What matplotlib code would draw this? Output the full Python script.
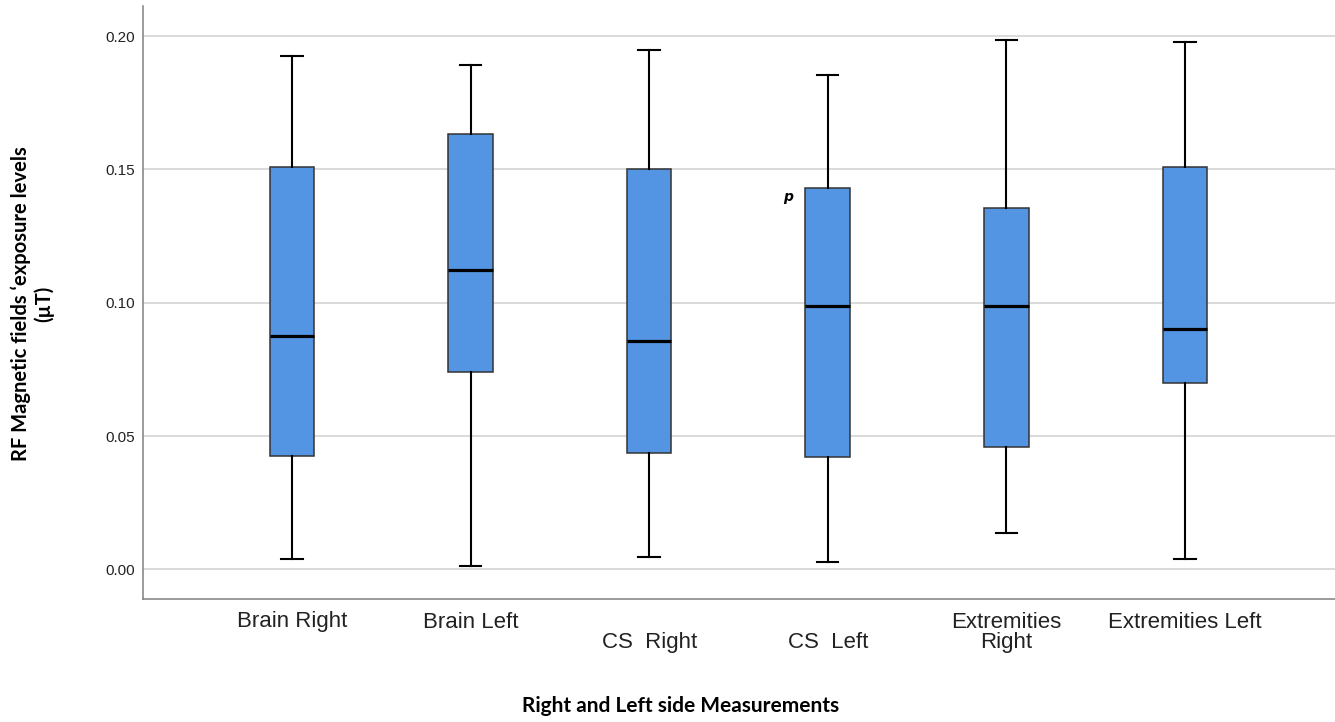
import numpy as np
import matplotlib
matplotlib.use('Agg')
import matplotlib.pyplot as plt

# Values (uT)
groups = ['Brain Right', 'Brain Left', '\nCS  Right', '\nCS  Left',
          'Extremities\nRight', 'Extremities Left']
whislo = [0.0038, 0.0011, 0.0047, 0.0026, 0.0137, 0.0040]
q1     = [0.0425, 0.0741, 0.0435, 0.0420, 0.0460, 0.0700]
med    = [0.0875, 0.1123, 0.0858, 0.0989, 0.0989, 0.0900]
q3     = [0.1509, 0.1632, 0.1500, 0.1431, 0.1354, 0.1510]
whishi = [0.1926, 0.1892, 0.1947, 0.1853, 0.1985, 0.1979]

stats = []
for i in range(len(groups)):
    stats.append({'whislo': whislo[i], 'q1': q1[i], 'med': med[i],
                  'q3': q3[i], 'whishi': whishi[i], 'fliers': []})

fig = plt.figure(figsize=(13.35, 7.22), dpi=100)
ax = fig.add_axes([143/1335, 1 - 599/722, 1 - 143/1335, (599 - 6)/722])

pos = np.arange(1, len(groups) + 1)
ax.bxp(stats, positions=pos, widths=0.25, capwidths=0.12, patch_artist=True,
       showfliers=False,
       boxprops=dict(facecolor='#5495e3', edgecolor='#333333', linewidth=1.1),
       medianprops=dict(color='black', linewidth=2.3),
       whiskerprops=dict(color='black', linewidth=1.5),
       capprops=dict(color='black', linewidth=1.5), zorder=3)

ax.set_xlim(0.166, 6.84)
ax.set_ylim(-0.0111, 0.2113)
ax.set_yticks([0.0, 0.05, 0.10, 0.15, 0.20])
ax.set_yticklabels(['0.00', '0.05', '0.10', '0.15', '0.20'],
                   family='Liberation Sans', fontsize=11, color='#222222')
ax.set_xticks(pos)
ax.set_xticklabels(groups, family='Liberation Sans', fontsize=16, color='#222222')
for t in ax.get_xticklabels():
    t.set_linespacing(0.98)
ax.tick_params(axis='both', length=0)
ax.tick_params(axis='y', pad=6)
ax.tick_params(axis='x', pad=9)

ax.grid(axis='y', color='#d0d0d0', linewidth=1.1, zorder=0)
ax.set_axisbelow(True)
for s in ['top', 'right']:
    ax.spines[s].set_visible(False)
for s in ['left', 'bottom']:
    ax.spines[s].set_color('#808080')
    ax.spines[s].set_linewidth(1.1)

ax.text(3.777, 0.1397, 'p', fontsize=10, fontweight='bold', style='italic',
        ha='center', va='center', family='DejaVu Sans')

fig.text(32/1335, 1 - 304/722, 'RF Magnetic fields \u2018exposure levels\n(\u00b5T)',
         rotation=90, ha='center', va='center', multialignment='center',
         family='Lato', fontweight='bold', fontsize=14.5, linespacing=1.15)
fig.text(681/1335, 1 - 706/722, 'Right and Left side Measurements',
         ha='center', va='center', family='Lato', fontweight='bold', fontsize=15)

fig.savefig('out.png', dpi=100)
